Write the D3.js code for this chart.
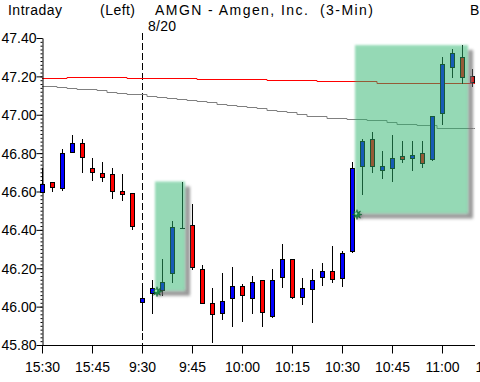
<!DOCTYPE html>
<html><head><meta charset="utf-8">
<script src="https://cdn.jsdelivr.net/npm/d3@7"></script>
<style>
html,body{margin:0;padding:0;background:#fff;}
svg{display:block;}
text{font-family:"Liberation Sans",Arial,sans-serif;font-size:14px;fill:#000;}
</style></head>
<body>
<svg id="c" width="480" height="382"></svg>
<script>
// ---- data ----
const timeLabels = ["15:30","15:45","9:30","9:45","10:00","10:15","10:30","10:45","11:00","11:15"];
const timeTickIdx = [0,5,10,15,20,25,30,35,40,45];
const yTicks = [45.8,46.0,46.2,46.4,46.6,46.8,47.0,47.2,47.4];
const open  = [46.595,46.65,46.62,46.805,46.851,46.72,46.699,46.689,46.60,46.59,
               46.025,46.072,46.088,46.176,46.41,46.427,46.197,46.02,45.967,46.046,
               46.108,46.046,46.14,45.952,46.155,46.25,46.051,46.093,46.155,46.187,
               46.15,46.29,46.731,46.872,46.71,46.72,46.783,46.772,46.799,46.767,
               47.008,47.248,47.30,47.201];
const high  = [46.72,46.652,46.82,46.893,46.872,46.772,46.752,46.72,46.689,46.59,
               46.114,46.14,46.25,46.448,46.652,46.537,46.218,46.098,46.176,46.208,
               46.119,46.16,46.14,46.197,46.328,46.25,46.15,46.197,46.229,46.318,
               46.29,46.752,46.872,46.908,46.809,46.893,46.861,46.861,46.861,46.992,
               47.30,47.342,47.363,47.238];
const low   = [46.59,46.595,46.605,46.80,46.694,46.657,46.647,46.563,46.55,46.40,
               45.873,45.962,46.055,46.124,46.41,46.192,46.014,45.81,45.93,45.894,
               45.92,45.962,45.894,45.941,46.098,46.04,46.009,45.915,46.108,46.124,
               46.10,46.28,46.584,46.694,46.663,46.647,46.746,46.705,46.725,46.757,
               46.945,47.19,47.16,47.144];
const close = [46.64,46.625,46.80,46.851,46.778,46.70,46.673,46.605,46.585,46.422,
               46.046,46.098,46.13,46.417,46.41,46.208,46.02,45.962,46.03,46.108,
               46.061,46.129,45.972,46.14,46.25,46.051,46.098,46.14,46.187,46.145,
               46.281,46.72,46.861,46.731,46.731,46.772,46.767,46.788,46.746,46.992,
               47.264,47.322,47.196,47.17];
const maRed = [47.189,47.189,47.189,47.198,47.198,47.198,47.198,47.198,47.198,47.189,
               47.189,47.189,47.189,47.189,47.189,47.189,47.184,47.184,47.184,47.184,
               47.184,47.184,47.184,47.179,47.179,47.179,47.179,47.179,47.174,47.174,
               47.174,47.174,47.174,47.174,47.168,47.168,47.168,47.168,47.168,47.168,
               47.168,47.168,47.168,47.168];
const maGray = [47.149,47.149,47.146,47.139,47.136,47.133,47.128,47.120,47.115,47.110,
                47.106,47.099,47.094,47.089,47.084,47.076,47.071,47.065,47.058,47.052,
                47.047,47.039,47.034,47.026,47.021,47.013,47.006,46.996,46.996,46.985,
                46.985,46.976,46.976,46.971,46.971,46.962,46.954,46.954,46.945,46.945,
                46.933,46.933,46.933,46.933];
// highlight boxes: [startIdx, endIdx, topPrice, bottomPrice]
const boxStart = [11.3, 31.3];
const boxEnd   = [14.3, 42.6];
const boxTop   = [46.652, 47.363];
const boxBottom= [46.083, 46.485];

// ---- scales ----
const svg = d3.select("#c");
const x = d3.scaleLinear().domain([0,1]).range([42,52]);
const y = d3.scaleLinear().domain([45.8,47.4]).range([345,38]);
const n = open.length;
const idx = d3.range(n);

// ---- title ----
function label(tx, ty, str, len){
  const t = svg.append("text").attr("x",tx).attr("y",ty).attr("xml:space","preserve").text(str);
  if (len) t.attr("textLength",len).attr("lengthAdjust","spacing");
  return t;
}
label(8,15,"Intraday",54);
label(100,15,"(Left)",35);
label(155,15,"AMGN - Amgen, Inc.  (3-Min)",218);
label(470,15,"B");
label(148,31,"8/20",28);

// ---- day separator ----
svg.append("line").attr("x1",x(10)+0.5).attr("x2",x(10)+0.5).attr("y1",33).attr("y2",345)
  .attr("stroke","#000").attr("stroke-dasharray","7,3");

// ---- moving averages ----
const lineGen = d3.line().x(i=>x(i)).curve(d3.curveStep);
const ext = idx.concat([43.3]);
svg.append("path").datum(ext)
  .attr("d", lineGen.y(i=> Math.round(y(maGray[Math.min(Math.round(i),n-1)])) + 0.5))
  .attr("fill","none").attr("stroke","#808080").attr("stroke-width",1);
svg.append("path").datum(ext)
  .attr("d", lineGen.y(i=> Math.round(y(maRed[Math.min(Math.round(i),n-1)])) + 0.5))
  .attr("fill","none").attr("stroke","#ff0000").attr("stroke-width",1);

// ---- axes ----
const yAxis = svg.append("g").attr("transform","translate(42.5,0)")
  .call(d3.axisLeft(y).tickValues(yTicks).tickSize(6).tickSizeOuter(0).tickFormat(d3.format(".2f")));
yAxis.selectAll("text").attr("x",-6);
const minor = d3.range(0,81).map(k=>45.8+k*0.02);
svg.append("g").attr("transform","translate(42.5,0)")
  .call(d3.axisLeft(y).tickValues(minor).tickSize(2).tickSizeOuter(0).tickFormat(""))
  .select(".domain").remove();
const xAxis = svg.append("g").attr("transform","translate(0,345.5)")
  .call(d3.axisBottom(x).tickValues(timeTickIdx).tickSize(8).tickSizeOuter(0)
    .tickFormat((d,i)=>timeLabels[i]));
xAxis.select(".domain").attr("d","M42,0H475");
xAxis.selectAll("text").attr("y",17).attr("dy","0.71em");
svg.selectAll(".tick text").style("font-family","'Liberation Sans',Arial,sans-serif").style("font-size","14px").attr("fill","#000");
svg.selectAll(".tick line, .domain").attr("stroke","#000");
yAxis.selectAll("text").attr("dy","0.35em");

// ---- candles ----
const cg = svg.append("g");
idx.forEach(i=>{
  const cx = Math.round(x(i));
  cg.append("line").attr("x1",cx+0.5).attr("x2",cx+0.5)
    .attr("y1",Math.round(y(high[i]))).attr("y2",Math.round(y(low[i]))).attr("stroke","#000");
  const o=open[i], c=close[i];
  if (Math.abs(o-c) < 0.001) {
    cg.append("line").attr("x1",cx-2).attr("x2",cx+3)
      .attr("y1",Math.round(y(o))+0.5).attr("y2",Math.round(y(o))+0.5).attr("stroke","#000");
  } else {
    const t = Math.round(y(Math.max(o,c))), b = Math.round(y(Math.min(o,c)));
    cg.append("rect").attr("x",cx-1.5).attr("y",t+0.5).attr("width",4).attr("height",Math.max(1,b-t))
      .attr("fill", c>o ? "#0000ff" : "#ff0000").attr("stroke","#000");
  }
});

// ---- highlight boxes ----
const defs = svg.append("defs");
defs.append("filter").attr("id","blur").attr("x","-20%").attr("y","-20%").attr("width","140%").attr("height","140%")
  .append("feGaussianBlur").attr("stdDeviation",1.6);
defs.append("filter").attr("id","soft").attr("x","-10%").attr("y","-10%").attr("width","120%").attr("height","120%")
  .append("feGaussianBlur").attr("stdDeviation",0.8);
boxStart.forEach((s,k)=>{
  const x0 = x(s), x1 = x(boxEnd[k]), y0 = y(boxTop[k]), y1 = y(boxBottom[k]);
  const d = 5;
  svg.append("path")
    .attr("d",`M${x1},${y0+d}H${x1+d}V${y1+d}H${x0+d}V${y1}H${x1}Z`)
    .attr("fill","#777").attr("opacity",0.75).attr("filter","url(#blur)");
  svg.append("rect").attr("x",x0).attr("y",y0).attr("width",x1-x0).attr("height",y1-y0)
    .attr("fill","#2fb56e").attr("opacity",0.5).attr("filter","url(#soft)");
  const sx = x0+2, sy = y1+1;
  const pts = d3.range(16).map(j=>{
    const r = j%2===0 ? 5 : 2.2, a = j*Math.PI/8;
    return [sx + r*Math.cos(a), sy + r*Math.sin(a)];
  });
  svg.append("polygon").attr("points",pts.map(p=>p.map(v=>v+1.5).join(",")).join(" "))
    .attr("fill","#333").attr("opacity",0.5).attr("filter","url(#soft)");
  svg.append("polygon").attr("points",pts.map(p=>p.join(",")).join(" "))
    .attr("fill","#1f8a4a").attr("stroke","#0d5a2c").attr("stroke-width",0.5);
  svg.append("circle").attr("cx",sx-1).attr("cy",sy-1).attr("r",1.2).attr("fill","#9fe8b8");
});
</script>
</body></html>
